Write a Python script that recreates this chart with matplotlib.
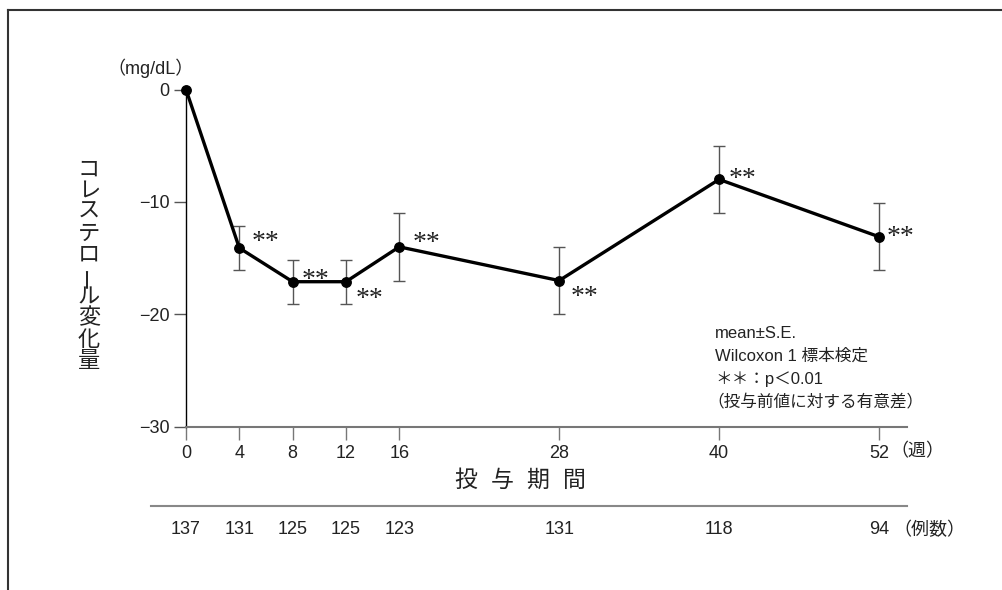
import matplotlib
matplotlib.use("Agg")
import matplotlib.pyplot as plt
from matplotlib.lines import Line2D

plt.rcParams['font.family'] = ['Liberation Sans', 'Noto Sans CJK JP', 'DejaVu Sans']

# ---- data ----
weeks = [0, 4, 8, 12, 16, 28, 40, 52]
mean_change = [0.0, -14.1, -17.1, -17.1, -14.0, -17.0, -8.0, -13.1]
se = [0.0, 2.0, 1.95, 1.95, 3.0, 3.0, 3.0, 3.0]
n_cases = [137, 131, 125, 125, 123, 131, 118, 94]
signif = ['', '**', '**', '**', '**', '**', '**', '**']
y_ticks = [0, -10, -20, -30]
y_tick_labels = ['0', '−10', '−20', '−30']
ylabel_chars = list("コレステロール変化量")
xlabel_text = "投 与 期 間"
note_lines = ["mean±S.E.", "Wilcoxon 1 標本検定", "＊＊：p＜0.01", "（投与前値に対する有意差）"]

# style: offsets (pixels) of the significance marks from each point
star_dx = [0, 13, 10, 11, 14, 12, 11, 9]
star_dy = [0, 12, 8, -11, 10, -10, 7, 6]

W, H = 1003, 590
fig = plt.figure(figsize=(W / 100, H / 100), dpi=100)

def fx(px):
    return px / W

def fy(py):
    return 1 - py / H

ax_left, ax_right = fx(186), fx(907)
ax_top, ax_bottom = fy(89.5), fy(426.7)
ax = fig.add_axes([ax_left, ax_bottom, ax_right - ax_left, ax_top - ax_bottom])

xmax = (907 - 186) / ((879 - 186) / 52)
ax.set_xlim(0, xmax)
ax.set_ylim(-30, 0)

ax.errorbar(weeks[1:], mean_change[1:], yerr=se[1:], fmt='none', ecolor='#555555',
            elinewidth=1.0, capsize=4.5, capthick=1.0, zorder=2, clip_on=False)
ax.plot(weeks, mean_change, color='black', lw=2.4, marker='o', markersize=6.8,
        zorder=3, clip_on=False)

# significance marks: glyph centre of Times asterisk sits ~0.48 em above baseline
star_fs = 20
star_center = 0.48 * star_fs * 100 / 72
for w, m, s, dx, dy in zip(weeks, mean_change, signif, star_dx, star_dy):
    if not s:
        continue
    ax.annotate(s, (w, m), xytext=(dx - 1, dy - star_center),
                textcoords='offset pixels', ha='left', va='baseline',
                fontsize=star_fs, family='Liberation Serif', color='#222222')

for side in ['top', 'right']:
    ax.spines[side].set_visible(False)
ax.spines['left'].set_color('black')
ax.spines['left'].set_linewidth(1.0)
ax.spines['bottom'].set_color('#777777')
ax.spines['bottom'].set_linewidth(1.5)

ax.set_yticks(y_ticks)
ax.set_yticklabels(y_tick_labels)
ax.set_xticks(weeks)
ax.set_xticklabels([str(w) for w in weeks])
ax.tick_params(axis='y', direction='out', length=9, width=1.0, color='#555555',
               labelsize=13, pad=3, labelcolor='#222222')
ax.tick_params(axis='x', direction='out', length=9, width=1.0, color='#777777',
               labelsize=13, pad=4, labelcolor='#222222')

# unit labels
fig.text(fx(151), fy(68), "（mg/dL）", ha='center', va='center', fontsize=13, color='#222222')
fig.text(fx(890), fy(452), "（週）", ha='left', va='center', fontsize=13, color='#222222')

# x label (spaced characters)
for i, ch in enumerate(xlabel_text.split()):
    fig.text(fx(466 + i * 36), fy(480), ch, ha='center', va='center', fontsize=16.5,
             color='#222222')

# vertical y label
y0, step = 170, 21.3
for i, ch in enumerate(ylabel_chars):
    rot = 90 if ch == 'ー' else 0
    fig.text(fx(89), fy(y0 + i * step), ch, ha='center', va='center', fontsize=16,
             rotation=rot, color='#222222')

# separator and counts row
fig.add_artist(Line2D([fx(151), fx(907)], [fy(506), fy(506)], color='#888888', lw=1.5))
for w, n in zip(weeks, n_cases):
    xd = ax.transData.transform((w, 0))[0]
    fig.text(xd / W, fy(530), str(n), ha='center', va='center',
             fontsize=13, color='#222222')
fig.text(fx(893), fy(530), "（例数）", ha='left', va='center', fontsize=13, color='#222222')

# note block
note_y = [333, 356, 379, 402]
note_x = [715, 715, 715, 707]
for t, xx, yy in zip(note_lines, note_x, note_y):
    fig.text(fx(xx), fy(yy), t, ha='left', va='center', fontsize=12, color='#222222')

# outer frame (cropped box)
fig.add_artist(Line2D([fx(8.5), 1.0], [fy(9.5), fy(9.5)], color='#333333', lw=1.5))
fig.add_artist(Line2D([fx(8.5), fx(8.5)], [fy(9.5), 0.0], color='#333333', lw=1.5))

fig.savefig("out.png", dpi=100)
